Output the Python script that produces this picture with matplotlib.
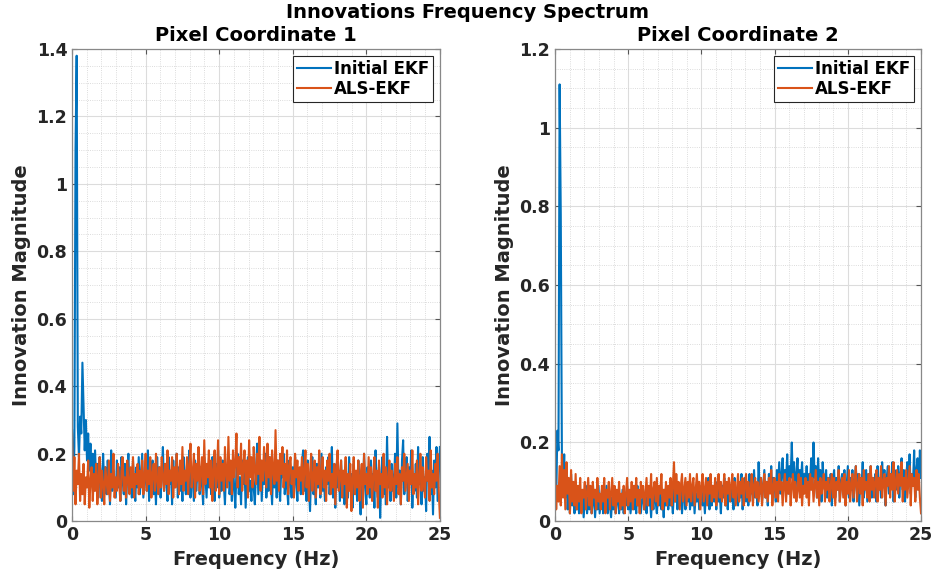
import numpy as np
import matplotlib
matplotlib.use('Agg')
import matplotlib.pyplot as plt
from matplotlib.ticker import MultipleLocator

# values (magnitude vs frequency, evenly spaced 0..25 Hz)
left_initial = [
    0.27, 0.08, 0.22, 1.10, 1.38, 0.28, 0.19, 0.31, 0.26, 0.47, 0.34, 0.21, 0.30, 0.18, 0.26, 0.15, 0.23, 0.12, 0.20, 0.09,
    0.21, 0.11, 0.17, 0.07, 0.19, 0.13, 0.06, 0.20, 0.10, 0.16, 0.08, 0.18, 0.12, 0.05, 0.21, 0.09, 0.15, 0.11, 0.07, 0.18,
    0.10, 0.16, 0.06, 0.19, 0.12, 0.08, 0.17, 0.05, 0.14, 0.20, 0.09, 0.13, 0.07, 0.18, 0.11, 0.06, 0.16, 0.10, 0.19, 0.08,
    0.14, 0.20, 0.07, 0.12, 0.17, 0.09, 0.21, 0.06, 0.15, 0.11, 0.18, 0.08, 0.13, 0.05, 0.19, 0.10, 0.16, 0.07, 0.14, 0.22,
    0.09, 0.17, 0.12, 0.06, 0.19, 0.11, 0.15, 0.05, 0.18, 0.10, 0.13, 0.20, 0.07, 0.16, 0.09, 0.14, 0.06, 0.19, 0.12, 0.08,
    0.17, 0.10, 0.21, 0.07, 0.15, 0.12, 0.06, 0.18, 0.09, 0.14, 0.20, 0.08, 0.16, 0.11, 0.05, 0.19, 0.13, 0.07, 0.17, 0.10,
    0.15, 0.08, 0.19, 0.12, 0.06, 0.17, 0.10, 0.21, 0.07, 0.14, 0.09, 0.18, 0.11, 0.05, 0.16, 0.12, 0.19, 0.08, 0.13, 0.06,
    0.17, 0.10, 0.04, 0.15, 0.20, 0.08, 0.13, 0.05, 0.18, 0.11, 0.16, 0.04, 0.14, 0.19, 0.09, 0.12, 0.06, 0.17, 0.10, 0.05,
    0.15, 0.23, 0.08, 0.13, 0.18, 0.06, 0.16, 0.11, 0.20, 0.07, 0.14, 0.09, 0.19, 0.12, 0.05, 0.17, 0.10, 0.15, 0.07, 0.18,
    0.11, 0.06, 0.16, 0.13, 0.20, 0.08, 0.14, 0.10, 0.05, 0.18, 0.12, 0.07, 0.16, 0.09, 0.19, 0.11, 0.06, 0.15, 0.13, 0.08,
    0.17, 0.21, 0.09, 0.14, 0.06, 0.18, 0.11, 0.03, 0.15, 0.19, 0.08, 0.12, 0.05, 0.17, 0.10, 0.14, 0.07, 0.20, 0.09, 0.13,
    0.06, 0.16, 0.11, 0.19, 0.08, 0.14, 0.22, 0.07, 0.12, 0.04, 0.17, 0.10, 0.15, 0.06, 0.18, 0.09, 0.13, 0.05, 0.16, 0.11,
    0.07, 0.19, 0.10, 0.14, 0.04, 0.17, 0.09, 0.12, 0.06, 0.18, 0.11, 0.02, 0.15, 0.08, 0.20, 0.10, 0.05, 0.16, 0.12, 0.07,
    0.18, 0.09, 0.14, 0.04, 0.21, 0.11, 0.07, 0.16, 0.01, 0.13, 0.19, 0.08, 0.15, 0.05, 0.25, 0.10, 0.14, 0.06, 0.17, 0.09,
    0.12, 0.20, 0.07, 0.29, 0.10, 0.15, 0.05, 0.18, 0.24, 0.08, 0.13, 0.19, 0.06, 0.16, 0.11, 0.21, 0.04, 0.14, 0.09, 0.17,
    0.07, 0.22, 0.11, 0.16, 0.05, 0.19, 0.09, 0.13, 0.03, 0.20, 0.12, 0.25, 0.08, 0.15, 0.02, 0.18, 0.10, 0.22, 0.06, 0.14,
    0.22,
]
left_als = [
    0.26, 0.09, 0.19, 0.05, 0.15, 0.11, 0.20, 0.06, 0.14, 0.08, 0.17, 0.05, 0.13, 0.10, 0.18, 0.04, 0.12, 0.16, 0.06, 0.14,
    0.09, 0.17, 0.05, 0.13, 0.19, 0.07, 0.15, 0.11, 0.05, 0.16, 0.12, 0.08, 0.18, 0.06, 0.14, 0.10, 0.20, 0.07, 0.13, 0.09,
    0.17, 0.11, 0.06, 0.15, 0.19, 0.09, 0.13, 0.07, 0.18, 0.12, 0.08, 0.16, 0.10, 0.19, 0.07, 0.14, 0.11, 0.17, 0.08, 0.15,
    0.10, 0.18, 0.08, 0.13, 0.20, 0.09, 0.15, 0.11, 0.19, 0.07, 0.14, 0.17, 0.09, 0.20, 0.12, 0.08, 0.16, 0.10, 0.19, 0.13,
    0.09, 0.17, 0.11, 0.21, 0.08, 0.15, 0.12, 0.19, 0.07, 0.16, 0.10, 0.20, 0.13, 0.08, 0.18, 0.11, 0.22, 0.09, 0.15, 0.12,
    0.19, 0.08, 0.16, 0.23, 0.10, 0.14, 0.20, 0.07, 0.17, 0.12, 0.22, 0.09, 0.15, 0.19, 0.08, 0.24, 0.11, 0.17, 0.13, 0.21,
    0.10, 0.18, 0.06, 0.15, 0.21, 0.09, 0.13, 0.24, 0.08, 0.19, 0.12, 0.17, 0.09, 0.22, 0.14, 0.10, 0.25, 0.12, 0.18, 0.08,
    0.21, 0.13, 0.17, 0.26, 0.10, 0.19, 0.14, 0.23, 0.09, 0.16, 0.21, 0.11, 0.18, 0.07, 0.24, 0.13, 0.19, 0.10, 0.22, 0.15,
    0.11, 0.20, 0.14, 0.25, 0.09, 0.18, 0.12, 0.22, 0.16, 0.10, 0.23, 0.13, 0.19, 0.08, 0.21, 0.15, 0.11, 0.27, 0.12, 0.18,
    0.09, 0.20, 0.14, 0.22, 0.10, 0.17, 0.12, 0.21, 0.08, 0.16, 0.19, 0.11, 0.15, 0.07, 0.20, 0.13, 0.18, 0.09, 0.16, 0.12,
    0.19, 0.08, 0.15, 0.21, 0.10, 0.17, 0.06, 0.14, 0.20, 0.09, 0.13, 0.18, 0.07, 0.16, 0.11, 0.21, 0.08, 0.14, 0.19, 0.10,
    0.15, 0.06, 0.18, 0.12, 0.20, 0.08, 0.14, 0.10, 0.17, 0.05, 0.16, 0.21, 0.09, 0.13, 0.18, 0.07, 0.15, 0.11, 0.19, 0.04,
    0.14, 0.09, 0.17, 0.03, 0.12, 0.19, 0.08, 0.15, 0.10, 0.18, 0.06, 0.13, 0.17, 0.04, 0.20, 0.11, 0.14, 0.08, 0.19, 0.10,
    0.16, 0.06, 0.13, 0.19, 0.09, 0.15, 0.04, 0.18, 0.11, 0.14, 0.07, 0.20, 0.10, 0.16, 0.05, 0.13, 0.18, 0.09, 0.15, 0.12,
    0.06, 0.17, 0.11, 0.19, 0.08, 0.14, 0.05, 0.16, 0.12, 0.20, 0.09, 0.13, 0.17, 0.06, 0.15, 0.11, 0.21, 0.08, 0.14, 0.10,
    0.18, 0.05, 0.13, 0.20, 0.09, 0.16, 0.11, 0.07, 0.19, 0.12, 0.15, 0.06, 0.21, 0.10, 0.14, 0.08, 0.17, 0.12, 0.20, 0.09,
    0.01,
]
right_initial = [
    0.12, 0.05, 0.23, 0.18, 1.11, 0.78, 0.16, 0.10, 0.17, 0.06, 0.14, 0.03, 0.09, 0.02, 0.12, 0.04, 0.08, 0.02, 0.10, 0.03,
    0.06, 0.02, 0.08, 0.03, 0.07, 0.01, 0.05, 0.09, 0.02, 0.06, 0.03, 0.08, 0.02, 0.05, 0.07, 0.01, 0.06, 0.03, 0.09, 0.02,
    0.05, 0.08, 0.02, 0.06, 0.03, 0.09, 0.02, 0.07, 0.04, 0.01, 0.06, 0.03, 0.08, 0.02, 0.05, 0.07, 0.02, 0.06, 0.03, 0.08,
    0.02, 0.06, 0.04, 0.09, 0.03, 0.07, 0.02, 0.05, 0.08, 0.03, 0.06, 0.02, 0.09, 0.04, 0.07, 0.02, 0.05, 0.08, 0.03, 0.06,
    0.02, 0.08, 0.04, 0.06, 0.01, 0.07, 0.03, 0.09, 0.05, 0.02, 0.07, 0.04, 0.08, 0.03, 0.06, 0.01, 0.08, 0.04, 0.07, 0.03,
    0.09, 0.04, 0.06, 0.02, 0.08, 0.05, 0.10, 0.03, 0.07, 0.04, 0.09, 0.02, 0.06, 0.08, 0.03, 0.07, 0.05, 0.10, 0.03, 0.06,
    0.04, 0.08, 0.02, 0.07, 0.05, 0.10, 0.03, 0.06, 0.09, 0.04, 0.07, 0.02, 0.08, 0.05, 0.11, 0.03, 0.07, 0.04, 0.09, 0.05,
    0.08, 0.03, 0.10, 0.05, 0.07, 0.02, 0.09, 0.06, 0.11, 0.04, 0.08, 0.03, 0.10, 0.06, 0.05, 0.09, 0.03, 0.11, 0.06, 0.08,
    0.04, 0.10, 0.06, 0.12, 0.03, 0.08, 0.11, 0.05, 0.09, 0.04, 0.12, 0.07, 0.10, 0.05, 0.13, 0.06, 0.09, 0.04, 0.15, 0.07,
    0.11, 0.05, 0.09, 0.13, 0.06, 0.10, 0.04, 0.12, 0.08, 0.14, 0.06, 0.11, 0.09, 0.05, 0.13, 0.08, 0.15, 0.07, 0.12, 0.16,
    0.08, 0.13, 0.10, 0.17, 0.07, 0.14, 0.11, 0.20, 0.09, 0.15, 0.06, 0.12, 0.16, 0.08, 0.13, 0.10, 0.15, 0.07, 0.12, 0.09,
    0.14, 0.07, 0.12, 0.10, 0.16, 0.08, 0.20, 0.11, 0.14, 0.06, 0.16, 0.09, 0.13, 0.05, 0.15, 0.10, 0.08, 0.13, 0.06, 0.11,
    0.07, 0.12, 0.04, 0.10, 0.13, 0.06, 0.11, 0.08, 0.14, 0.05, 0.10, 0.12, 0.07, 0.13, 0.04, 0.09, 0.14, 0.06, 0.11, 0.08,
    0.13, 0.05, 0.10, 0.14, 0.07, 0.12, 0.04, 0.11, 0.09, 0.15, 0.06, 0.10, 0.13, 0.05, 0.12, 0.08, 0.14, 0.06, 0.11, 0.09,
    0.12, 0.05, 0.14, 0.08, 0.11, 0.06, 0.15, 0.09, 0.13, 0.04, 0.11, 0.14, 0.07, 0.12, 0.09, 0.15, 0.05, 0.13, 0.10, 0.08,
    0.14, 0.06, 0.12, 0.16, 0.08, 0.13, 0.05, 0.11, 0.15, 0.09, 0.17, 0.07, 0.12, 0.10, 0.18, 0.06, 0.13, 0.16, 0.08, 0.18,
    0.11,
]
right_als = [
    0.12, 0.03, 0.09, 0.05, 0.14, 0.04, 0.17, 0.06, 0.13, 0.03, 0.15, 0.07, 0.11, 0.02, 0.13, 0.05, 0.10, 0.04, 0.12, 0.03,
    0.09, 0.05, 0.11, 0.02, 0.08, 0.06, 0.10, 0.03, 0.07, 0.11, 0.04, 0.09, 0.02, 0.10, 0.06, 0.08, 0.03, 0.11, 0.05, 0.07,
    0.03, 0.09, 0.05, 0.11, 0.02, 0.08, 0.06, 0.10, 0.03, 0.07, 0.11, 0.04, 0.09, 0.02, 0.08, 0.05, 0.10, 0.03, 0.07, 0.04,
    0.09, 0.02, 0.07, 0.11, 0.04, 0.08, 0.05, 0.10, 0.03, 0.09, 0.06, 0.11, 0.04, 0.08, 0.02, 0.10, 0.06, 0.09, 0.03, 0.07,
    0.11, 0.04, 0.09, 0.06, 0.12, 0.03, 0.08, 0.10, 0.05, 0.11, 0.04, 0.09, 0.07, 0.12, 0.03, 0.08, 0.05, 0.10, 0.04, 0.09,
    0.06, 0.11, 0.04, 0.09, 0.15, 0.05, 0.12, 0.07, 0.10, 0.03, 0.09, 0.12, 0.05, 0.08, 0.11, 0.04, 0.10, 0.06, 0.12, 0.05,
    0.09, 0.11, 0.04, 0.08, 0.12, 0.06, 0.10, 0.03, 0.09, 0.12, 0.05, 0.08, 0.11, 0.04, 0.10, 0.07, 0.12, 0.05, 0.09, 0.06,
    0.11, 0.04, 0.09, 0.12, 0.06, 0.10, 0.05, 0.08, 0.12, 0.04, 0.10, 0.07, 0.11, 0.05, 0.09, 0.12, 0.06, 0.10, 0.04, 0.08,
    0.12, 0.05, 0.10, 0.07, 0.11, 0.04, 0.09, 0.12, 0.06, 0.10, 0.05, 0.08, 0.12, 0.04, 0.09, 0.11, 0.06, 0.10, 0.05, 0.08,
    0.11, 0.04, 0.09, 0.12, 0.06, 0.10, 0.05, 0.11, 0.07, 0.13, 0.04, 0.09, 0.11, 0.06, 0.10, 0.05, 0.12, 0.08, 0.10, 0.04,
    0.09, 0.12, 0.05, 0.10, 0.07, 0.11, 0.04, 0.09, 0.12, 0.06, 0.10, 0.05, 0.08, 0.12, 0.06, 0.11, 0.04, 0.09, 0.07, 0.11,
    0.06, 0.10, 0.04, 0.12, 0.08, 0.11, 0.05, 0.09, 0.13, 0.06, 0.10, 0.04, 0.11, 0.07, 0.09, 0.12, 0.05, 0.10, 0.08, 0.11,
    0.05, 0.09, 0.12, 0.06, 0.11, 0.04, 0.10, 0.08, 0.13, 0.05, 0.09, 0.11, 0.06, 0.12, 0.04, 0.10, 0.07, 0.13, 0.05, 0.09,
    0.12, 0.06, 0.10, 0.14, 0.05, 0.09, 0.12, 0.07, 0.11, 0.04, 0.13, 0.08, 0.10, 0.06, 0.12, 0.05, 0.14, 0.08, 0.11, 0.06,
    0.10, 0.13, 0.05, 0.11, 0.08, 0.14, 0.06, 0.10, 0.12, 0.04, 0.11, 0.09, 0.14, 0.06, 0.12, 0.08, 0.15, 0.05, 0.10, 0.13,
    0.07, 0.12, 0.09, 0.15, 0.05, 0.11, 0.08, 0.13, 0.06, 0.10, 0.14, 0.04, 0.12, 0.09, 0.11, 0.05, 0.13, 0.08, 0.12, 0.06,
    0.02,
]

series_names = ['Initial EKF', 'ALS-EKF']
panel_titles = ['Pixel Coordinate 1', 'Pixel Coordinate 2']
panel_ymax = [1.4, 1.2]
panel_data = [(left_initial, left_als), (right_initial, right_als)]
f_max = 25

blue = '#0072BD'
orange = '#D95319'

plt.rcParams['font.family'] = 'DejaVu Sans'
plt.rcParams['font.weight'] = 'bold'

fig = plt.figure(figsize=(9.36, 5.83), dpi=100)
axes = [fig.add_axes([0.077, 0.106, 0.393, 0.810]),
        fig.add_axes([0.593, 0.106, 0.391, 0.810])]

for ax, title, ymax, (init, als) in zip(axes, panel_titles, panel_ymax, panel_data):
    f1 = np.linspace(0, f_max, len(init))
    f2 = np.linspace(0, f_max, len(als))
    ax.plot(f1, init, color=blue, lw=1.5, label=series_names[0])
    ax.plot(f2, als, color=orange, lw=1.5, label=series_names[1])
    ax.set_xlim(0, f_max)
    ax.set_ylim(0, ymax)
    ax.xaxis.set_major_locator(MultipleLocator(5))
    ax.xaxis.set_minor_locator(MultipleLocator(1))
    ax.yaxis.set_major_locator(MultipleLocator(0.2))
    ax.yaxis.set_minor_locator(MultipleLocator(0.05))
    ax.yaxis.set_major_formatter(plt.FuncFormatter(lambda v, p: f'{v:g}'))
    ax.grid(which='major', color='#dcdcdc', lw=0.8)
    ax.grid(which='minor', color='#d0d0d0', lw=0.6, ls=':')
    ax.set_axisbelow(True)
    ax.tick_params(which='both', direction='in', top=True, right=True,
                   labelsize=12.5, color='#555555', labelcolor='#262626')
    ax.tick_params(which='minor', length=0)
    for s in ax.spines.values():
        s.set_color('#888888')
        s.set_linewidth(0.9)
    ax.set_title(title, fontsize=14, fontweight='bold', pad=6)
    ax.set_xlabel('Frequency (Hz)', fontsize=14, fontweight='bold', color='#262626')
    ax.set_ylabel('Innovation Magnitude', fontsize=14, fontweight='bold', color='#262626')
    leg = ax.legend(loc='upper right', fontsize=12, fancybox=False, framealpha=1,
                    edgecolor='#262626', handlelength=2.0, handletextpad=0.2,
                    borderpad=0.25, labelspacing=0.15, borderaxespad=0.4)
    leg.get_frame().set_linewidth(0.8)
    for t in leg.get_texts():
        t.set_fontweight('bold')

fig.suptitle('Innovations Frequency Spectrum', fontsize=14, fontweight='bold', y=0.995)

fig.savefig('out.png', dpi=100)
